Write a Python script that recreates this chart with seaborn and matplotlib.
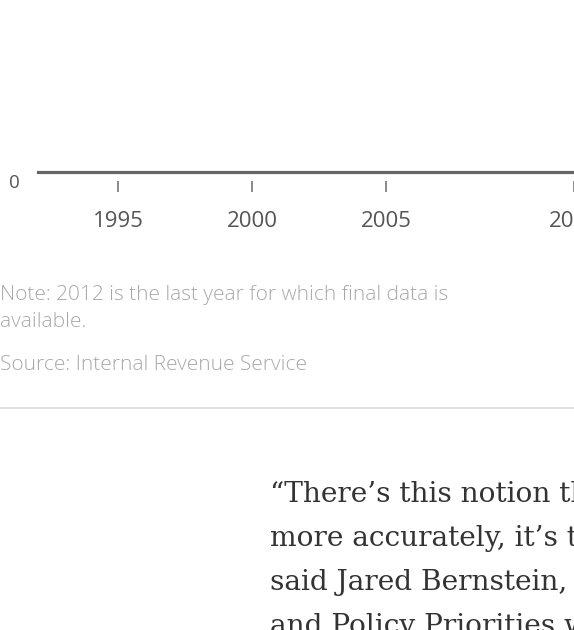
import matplotlib
matplotlib.use("Agg")
import matplotlib.pyplot as plt
import matplotlib.transforms as mtransforms
import seaborn as sns

# Tick years shown on the (cropped) x axis
tick_years = [1995, 2000, 2005, 2012]
tick_labels = ["1995", "2000", "2005", "2012"]
x_start, x_end = 1992, 2011.85

note_lines = ["Note: 2012 is the last year for which final data is", "available."]
source_text = "Source: Internal Revenue Service"
quote_lines = [
    "\u201cThere\u2019s this notion that",
    "more accurately, it\u2019s the",
    "said Jared Bernstein, a",
    "and Policy Priorities who",
]

sns.set_theme(style="white")
plt.rcParams["font.family"] = ["Open Sans", "DejaVu Sans"]

W, H = 574, 630
fig = plt.figure(figsize=(W / 100, H / 100), dpi=100)
fig.patch.set_facecolor("white")

def fx(px):
    return px / W

def fy(py):
    return 1 - py / H

# Axes: bottom spine sits at y=172px, starts at x=38px
ax = fig.add_axes([fx(38), fy(172), 1 - fx(38), 172 / H])
ax.set_xlim(x_start, x_end)
ax.set_ylim(0, 1)
ax.set_facecolor("white")
sns.despine(ax=ax, left=True, top=True, right=True)
ax.spines["bottom"].set_color("#666666")
ax.spines["bottom"].set_linewidth(2.3)
ax.set_yticks([])
ax.set_xticks(tick_years)
ax.set_xticklabels(tick_labels)
ax.tick_params(axis="x", length=0, pad=28, labelsize=16, labelcolor="#555555")
for lab in ax.get_xticklabels():
    lab.set_clip_on(False)

# detached tick marks below the axis line
trans = mtransforms.blended_transform_factory(ax.transData, fig.transFigure)
ax.vlines(tick_years, fy(192), fy(181), transform=trans, colors="#777777",
          linewidth=1.2, clip_on=False)

fig.text(fx(14), fy(183), "0", ha="center", va="center", fontsize=13.5, color="#555555")

# note and source
note_color = "#a8a8a8"
fig.text(fx(0), fy(295), note_lines[0], ha="left", va="center", fontsize=15,
         color=note_color, fontweight="light")
fig.text(fx(0), fy(322), note_lines[1], ha="left", va="center", fontsize=15,
         color=note_color, fontweight="light")
fig.text(fx(0), fy(365), source_text, ha="left", va="center", fontsize=15,
         color=note_color, fontweight="light")

# separator rule
fig.add_artist(plt.Line2D([0, 1], [fy(408), fy(408)], transform=fig.transFigure,
                          color="#e2e2e2", linewidth=1.5))

# article body text
for i, line in enumerate(quote_lines):
    fig.text(fx(270), fy(502 + 44 * i), line, ha="left", va="baseline",
             fontsize=20.2, color="#333333", family=["DejaVu Serif"])

fig.savefig("out.png", dpi=100, facecolor="white")
